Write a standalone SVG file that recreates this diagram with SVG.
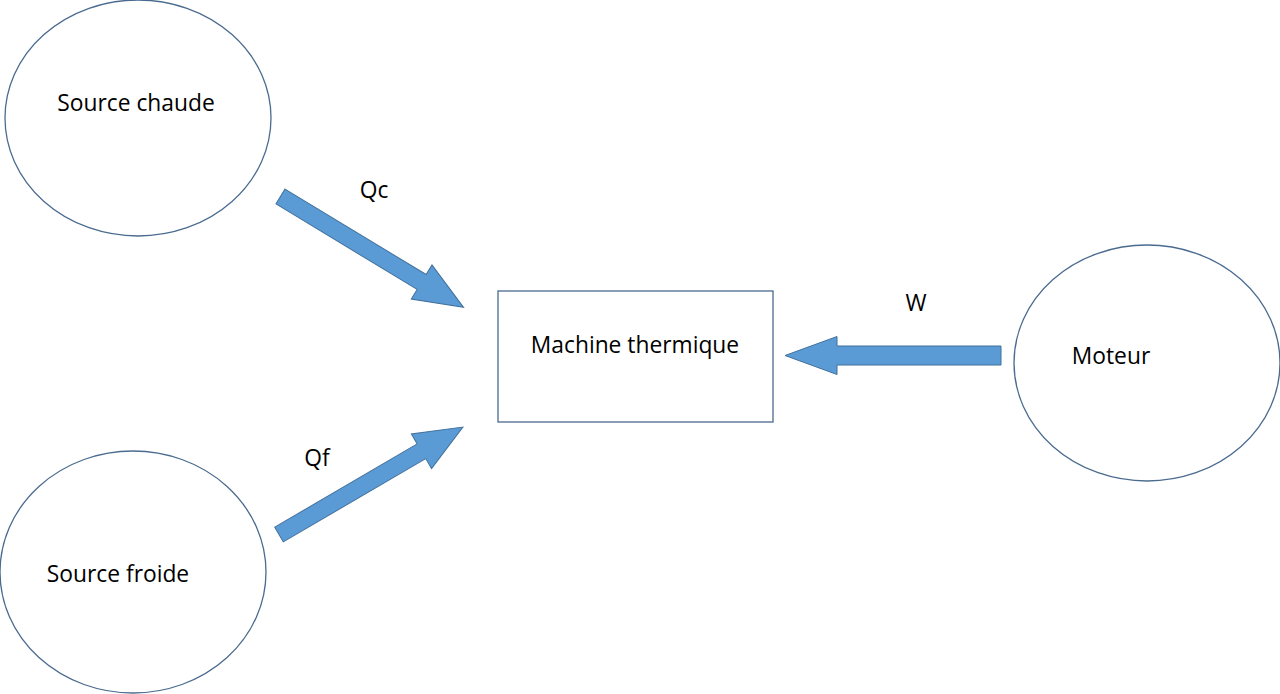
<svg xmlns="http://www.w3.org/2000/svg" width="1280" height="694" viewBox="0 0 1280 694">
<style>
.node{fill:#ffffff;stroke:#4a6b8f;stroke-width:1.3}
.lbl{font-family:"Open Sans","Liberation Sans",sans-serif;font-size:22.8px;fill:#000000;text-anchor:middle}
.arr{fill:#5b9bd5;stroke:#41719c;stroke-width:1}
</style>
<rect x="0" y="0" width="1280" height="694" fill="#ffffff"/>
<g id="source-chaude">
<ellipse class="node" cx="138" cy="118" rx="133" ry="118"/>
<text class="lbl" x="136" y="111">Source chaude</text>
</g>
<g id="source-froide">
<ellipse class="node" cx="133" cy="572" rx="133" ry="121"/>
<text class="lbl" x="118" y="582">Source froide</text>
</g>
<g id="moteur">
<ellipse class="node" cx="1147" cy="363" rx="133" ry="118"/>
<text class="lbl" x="1111" y="364">Moteur</text>
</g>
<g id="machine-thermique">
<rect class="node" x="498" y="291" width="275" height="131"/>
<text class="lbl" x="635" y="353">Machine thermique</text>
</g>
<g id="connectors">
<g transform="translate(280.5,196.5) rotate(31.2)">
<polygon class="arr" points="0,-8.7 165,-8.7 165,-20 214,0 165,20 165,8.7 0,8.7"/>
</g>
<g transform="translate(279,534.5) rotate(-30.3)">
<polygon class="arr" points="0,-8.5 165,-8.5 165,-20 213,0 165,20 165,8.5 0,8.5"/>
</g>
<g transform="translate(1001,355.5) rotate(180)">
<polygon class="arr" points="0,-9.5 164,-9.5 164,-19 216,0 164,19 164,9.5 0,9.5"/>
</g>
<text class="lbl" x="374" y="198">Qc</text>
<text class="lbl" x="317" y="466">Qf</text>
<text class="lbl" x="916" y="311">W</text>
</g>
</svg>
